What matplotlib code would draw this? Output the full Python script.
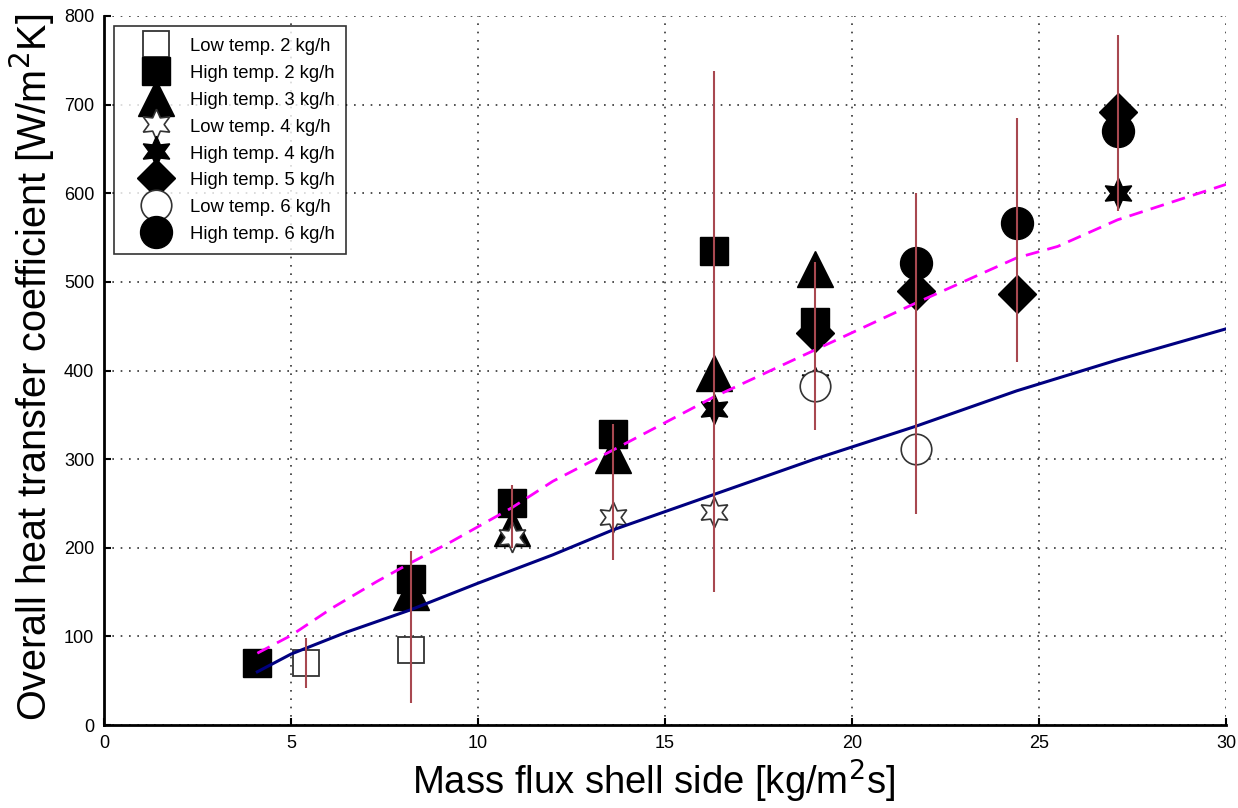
import matplotlib
matplotlib.use("Agg")
import matplotlib.pyplot as plt
import numpy as np

plt.rcParams['font.family'] = ['Liberation Sans', 'DejaVu Sans']

# ---- data ----
lt2_x = [5.4, 8.2]
lt2_y = [70, 85]
ht2_x = [4.1, 8.2, 10.9, 13.6, 16.3, 19.0]
ht2_y = [70, 165, 250, 328, 535, 455]
ht3_x = [8.2, 10.9, 13.6, 16.3, 19.0]
ht3_y = [150, 222, 305, 397, 515]
lt4_x = [10.9, 13.6, 16.3]
lt4_y = [212, 235, 240]
ht4_x = [16.3, 19.0, 27.1]
ht4_y = [357, 387, 600]
ht5_x = [19.0, 21.7, 24.4, 27.1]
ht5_y = [442, 490, 486, 692]
lt6_x = [19.0, 21.7]
lt6_y = [382, 311]
ht6_x = [21.7, 24.4, 27.1]
ht6_y = [521, 566, 670]

err_x = [5.4, 8.2, 10.9, 13.6, 16.3, 19.0, 21.7, 24.4, 27.1]
err_lo = [42, 25, 200, 186, 150, 333, 238, 410, 580]
err_hi = [98, 196, 271, 340, 738, 522, 600, 685, 778]

model_x = [4.1, 5.0, 6.5, 8.2, 10.0, 12.0, 13.6, 16.3, 19.0, 21.7, 24.4, 27.1, 30.0]
model_y = [60, 80, 105, 130, 160, 192, 220, 260, 300, 337, 377, 412, 447]

corr_x = [4.1, 5.0, 6.1, 7.3, 8.2, 9.25, 10.9, 12.0, 13.6, 16.3, 19.0, 21.7, 24.4, 25.5, 27.1, 30.0]
corr_y = [81, 101, 132, 162, 183, 206, 245, 275, 310, 370, 423, 476, 527, 540, 570, 610]

xticks = [0, 5, 10, 15, 20, 25, 30]
yticks = [0, 100, 200, 300, 400, 500, 600, 700, 800]

# ---- figure ----
fig = plt.figure(figsize=(12.38, 8.08), dpi=100)
ax = fig.add_axes([104/1238, 1 - 725/808, (1226-104)/1238, (725-16)/808])

ax.set_xlim(0, 30)
ax.set_ylim(0, 800)

# error bars
ax.vlines(err_x, err_lo, err_hi, color='#a84850', lw=1.5, zorder=4)

# lines
ax.plot(model_x, model_y, color='#000080', lw=2.2, zorder=3)
ax.plot(corr_x, corr_y, color='#ff00ff', lw=2.0, ls=(0, (5, 3)), zorder=3)

hex_star = (6, 1, 0)
kw = dict(ls='none', zorder=2)
h1, = ax.plot(lt2_x, lt2_y, marker='s', ms=19, mfc='white', mec='#333333', mew=1.3, label='Low temp. 2 kg/h', **kw)
h2, = ax.plot(ht2_x, ht2_y, marker='s', ms=20, mfc='black', mec='black', label='High temp. 2 kg/h', **kw)
h3, = ax.plot(ht3_x, ht3_y, marker='^', ms=26, mfc='black', mec='black', label='High temp. 3 kg/h', **kw)
h4, = ax.plot(lt4_x, lt4_y, marker=hex_star, ms=22, mfc='white', mec='#333333', mew=1.2, label='Low temp. 4 kg/h', **kw)
h5, = ax.plot(ht4_x, ht4_y, marker=hex_star, ms=22, mfc='black', mec='black', label='High temp. 4 kg/h', **kw)
h6, = ax.plot(ht5_x, ht5_y, marker='D', ms=19, mfc='black', mec='black', label='High temp. 5 kg/h', **kw)
h7, = ax.plot(lt6_x, lt6_y, marker='o', ms=22, mfc='white', mec='#333333', mew=1.2, label='Low temp. 6 kg/h', **kw)
h8, = ax.plot(ht6_x, ht6_y, marker='o', ms=23, mfc='black', mec='black', label='High temp. 6 kg/h', **kw)

ax.set_xticks(xticks)
ax.set_yticks(yticks)
ax.tick_params(direction='in', length=5, width=1.5, labelsize=13, colors='black')
ax.tick_params(axis='x', pad=7)
ax.tick_params(axis='y', pad=7)
ax.grid(True, color='#333333', ls=(0, (1, 4)), lw=1.2)
ax.set_axisbelow(True)
for s in ['top', 'right']:
    ax.spines[s].set_visible(False)
for s in ['left', 'bottom']:
    ax.spines[s].set_linewidth(2)
    ax.spines[s].set_zorder(6)

ax.set_xlabel('Mass flux shell side [kg/m$^2$s]', fontsize=27.5)
ax.set_ylabel('Overall heat transfer coefficient [W/m$^2$K]', fontsize=28.5)
ax.xaxis.set_label_coords(0.49, -0.046)
ax.yaxis.set_label_coords(-0.042, 0.505)

leg = ax.legend(handles=[h1, h2, h3, h4, h5, h6, h7, h8], loc='upper left',
                fontsize=13.3, frameon=True, fancybox=False, edgecolor='black',
                handlelength=3.4, handleheight=1.0, labelspacing=0.445,
                borderpad=0.57, handletextpad=0.15, borderaxespad=0.55,
                markerscale=1.0)
leg.get_frame().set_linewidth(1.2)
leg.set_zorder(10)

fig.savefig('out.png', dpi=100)
